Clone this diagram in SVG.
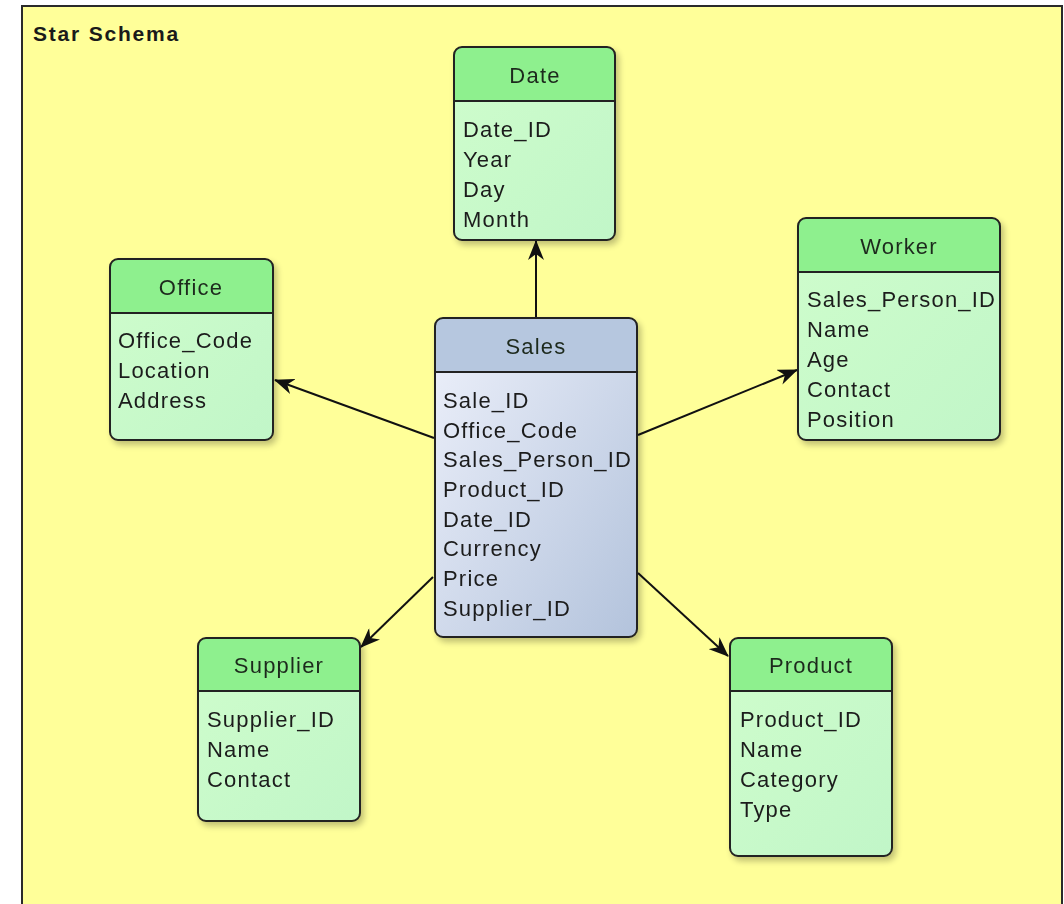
<svg xmlns="http://www.w3.org/2000/svg" width="1064" height="904" viewBox="0 0 1064 904">
  <defs>
    <style>
      .title { font-family: "Liberation Sans", Arial, sans-serif; font-weight: bold; font-size: 21px; letter-spacing: 1.8px; fill: #1a1a1a; }
      .hdr { font-family: "Liberation Sans", Arial, sans-serif; font-size: 22px; letter-spacing: 1.2px; fill: #1e2a1e; text-anchor: middle; }
      .fld { font-family: "Liberation Sans", Arial, sans-serif; font-size: 22px; letter-spacing: 1.2px; fill: #1c1c1c; }
      .box { stroke: #222; stroke-width: 2; }
      .sep { stroke: #222; stroke-width: 2; }
      .edge { stroke: #111; stroke-width: 2; fill: none; marker-end: url(#arrow); }
    </style>
    <linearGradient id="gBody" x1="0" y1="0" x2="1" y2="1">
      <stop offset="0" stop-color="#cffdcc"/>
      <stop offset="1" stop-color="#c1f6c8"/>
    </linearGradient>
    <linearGradient id="gSales" x1="0" y1="0" x2="1" y2="1">
      <stop offset="0" stop-color="#eef1fb"/>
      <stop offset="1" stop-color="#b3c3dc"/>
    </linearGradient>
    <filter id="shadow" x="-10%" y="-10%" width="125%" height="125%">
      <feGaussianBlur in="SourceAlpha" stdDeviation="3"/>
      <feOffset dx="3" dy="4" result="b"/>
      <feComponentTransfer><feFuncA type="linear" slope="0.25"/></feComponentTransfer>
      <feMerge><feMergeNode/><feMergeNode in="SourceGraphic"/></feMerge>
    </filter>
    <marker id="arrow" viewBox="0 0 20 16" refX="19" refY="8" markerWidth="20" markerHeight="16" markerUnits="userSpaceOnUse" orient="auto">
      <path d="M0,0 L20,8 L0,16 L6,8 Z" fill="#111"/>
    </marker>
  </defs>

  <!-- page and frame -->
  <rect x="0" y="0" width="1064" height="904" fill="#ffffff"/>
  <rect x="22" y="6" width="1040" height="910" fill="#ffff99" stroke="#2a2a2a" stroke-width="2"/>
  <text class="title" x="33" y="41">Star Schema</text>

  <!-- connectors -->
  <g id="connectors">
    <line class="edge" x1="536" y1="318" x2="536" y2="241"/>
    <line class="edge" x1="434" y1="438" x2="275" y2="380"/>
    <line class="edge" x1="638" y1="435" x2="797" y2="370"/>
    <line class="edge" x1="433" y1="577" x2="361" y2="647"/>
    <line class="edge" x1="638" y1="573" x2="728" y2="656"/>
  </g>

  <!-- Date -->
  <g id="node-date" filter="url(#shadow)">
    <rect x="454" y="47" width="161" height="193" rx="8" fill="url(#gBody)"/>
    <path d="M454,101 V55 a8,8 0 0 1 8,-8 H607 a8,8 0 0 1 8,8 V101 Z" fill="#8ef08e"/>
    <rect class="box" x="454" y="47" width="161" height="193" rx="8" fill="none"/>
    <line class="sep" x1="454" y1="101" x2="615" y2="101"/>
    <text class="hdr" x="535" y="83">Date</text>
    <text class="fld" x="463" y="137">Date_ID</text>
    <text class="fld" x="463" y="167">Year</text>
    <text class="fld" x="463" y="197">Day</text>
    <text class="fld" x="463" y="227">Month</text>
  </g>

  <!-- Office -->
  <g id="node-office" filter="url(#shadow)">
    <rect x="110" y="259" width="163" height="181" rx="8" fill="url(#gBody)"/>
    <path d="M110,313 V267 a8,8 0 0 1 8,-8 H265 a8,8 0 0 1 8,8 V313 Z" fill="#8ef08e"/>
    <rect class="box" x="110" y="259" width="163" height="181" rx="8" fill="none"/>
    <line class="sep" x1="110" y1="313" x2="273" y2="313"/>
    <text class="hdr" x="191" y="295">Office</text>
    <text class="fld" x="118" y="348">Office_Code</text>
    <text class="fld" x="118" y="378">Location</text>
    <text class="fld" x="118" y="408">Address</text>
  </g>

  <!-- Worker -->
  <g id="node-worker" filter="url(#shadow)">
    <rect x="798" y="218" width="202" height="222" rx="8" fill="url(#gBody)"/>
    <path d="M798,272 V226 a8,8 0 0 1 8,-8 H992 a8,8 0 0 1 8,8 V272 Z" fill="#8ef08e"/>
    <rect class="box" x="798" y="218" width="202" height="222" rx="8" fill="none"/>
    <line class="sep" x1="798" y1="272" x2="1000" y2="272"/>
    <text class="hdr" x="899" y="254">Worker</text>
    <text class="fld" x="807" y="307">Sales_Person_ID</text>
    <text class="fld" x="807" y="337">Name</text>
    <text class="fld" x="807" y="367">Age</text>
    <text class="fld" x="807" y="397">Contact</text>
    <text class="fld" x="807" y="427">Position</text>
  </g>

  <!-- Sales (fact table) -->
  <g id="node-sales" filter="url(#shadow)">
    <rect x="435" y="318" width="202" height="319" rx="8" fill="url(#gSales)"/>
    <path d="M435,372 V326 a8,8 0 0 1 8,-8 H629 a8,8 0 0 1 8,8 V372 Z" fill="#b6c7df"/>
    <rect class="box" x="435" y="318" width="202" height="319" rx="8" fill="none"/>
    <line class="sep" x1="435" y1="372" x2="637" y2="372"/>
    <text class="hdr" x="536" y="354" fill="#1e2430">Sales</text>
    <text class="fld" x="443" y="408">Sale_ID</text>
    <text class="fld" x="443" y="438">Office_Code</text>
    <text class="fld" x="443" y="467">Sales_Person_ID</text>
    <text class="fld" x="443" y="497">Product_ID</text>
    <text class="fld" x="443" y="527">Date_ID</text>
    <text class="fld" x="443" y="556">Currency</text>
    <text class="fld" x="443" y="586">Price</text>
    <text class="fld" x="443" y="616">Supplier_ID</text>
  </g>

  <!-- Supplier -->
  <g id="node-supplier" filter="url(#shadow)">
    <rect x="198" y="638" width="162" height="183" rx="8" fill="url(#gBody)"/>
    <path d="M198,691 V646 a8,8 0 0 1 8,-8 H352 a8,8 0 0 1 8,8 V691 Z" fill="#8ef08e"/>
    <rect class="box" x="198" y="638" width="162" height="183" rx="8" fill="none"/>
    <line class="sep" x1="198" y1="691" x2="360" y2="691"/>
    <text class="hdr" x="279" y="673">Supplier</text>
    <text class="fld" x="207" y="727">Supplier_ID</text>
    <text class="fld" x="207" y="757">Name</text>
    <text class="fld" x="207" y="787">Contact</text>
  </g>

  <!-- Product -->
  <g id="node-product" filter="url(#shadow)">
    <rect x="730" y="638" width="162" height="218" rx="8" fill="url(#gBody)"/>
    <path d="M730,691 V646 a8,8 0 0 1 8,-8 H884 a8,8 0 0 1 8,8 V691 Z" fill="#8ef08e"/>
    <rect class="box" x="730" y="638" width="162" height="218" rx="8" fill="none"/>
    <line class="sep" x1="730" y1="691" x2="892" y2="691"/>
    <text class="hdr" x="811" y="673">Product</text>
    <text class="fld" x="740" y="727">Product_ID</text>
    <text class="fld" x="740" y="757">Name</text>
    <text class="fld" x="740" y="787">Category</text>
    <text class="fld" x="740" y="817">Type</text>
  </g>
</svg>
